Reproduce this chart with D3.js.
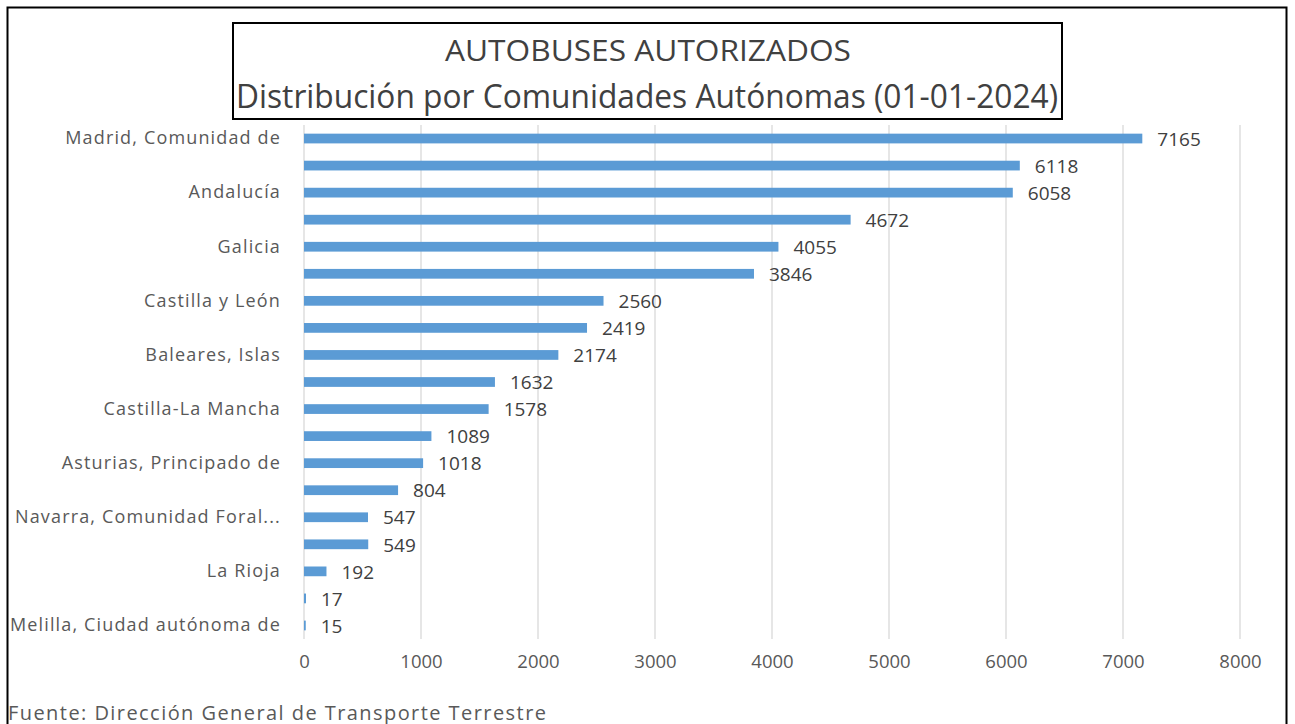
<!DOCTYPE html>
<html>
<head>
<meta charset="utf-8">
<script src="https://cdn.jsdelivr.net/npm/d3@7"></script>
<style>
  body { margin: 0; background: #fff; }
  text { font-family: "Open Sans", "Liberation Sans", sans-serif; }
</style>
</head>
<body>
<script>
/* data */
const regions = ['Madrid, Comunidad de', 'Cataluña', 'Andalucía', 'Comunitat Valenciana', 'Galicia',
  'País Vasco', 'Castilla y León', 'Canarias', 'Baleares, Islas', 'Murcia, Región de',
  'Castilla-La Mancha', 'Aragón', 'Asturias, Principado de', 'Extremadura', 'Navarra, Comunidad Foral de',
  'Cantabria', 'La Rioja', 'Ceuta, Ciudad autónoma de', 'Melilla, Ciudad autónoma de'];
const buses = [7165, 6118, 6058, 4672, 4055, 3846, 2560, 2419, 2174, 1632, 1578, 1089, 1018, 804, 547, 549, 192, 17, 15];
// Excel only shows every other category label
const shownLabels = ['Madrid, Comunidad de', '', 'Andalucía', '', 'Galicia', '', 'Castilla y León', '',
  'Baleares, Islas', '', 'Castilla-La Mancha', '', 'Asturias, Principado de', '', 'Navarra, Comunidad Foral...',
  '', 'La Rioja', '', 'Melilla, Ciudad autónoma de'];
const xTicks = [0, 1000, 2000, 3000, 4000, 5000, 6000, 7000, 8000];

const data = regions.map((r, i) => ({ region: r, value: buses[i] }));

/* canvas */
const width = 1295;
const height = 724;
const svg = d3.select('body').append('svg')
  .attr('width', width)
  .attr('height', height);

/* outer frame */
svg.append('rect')
  .attr('x', 7.5).attr('y', 7.5)
  .attr('width', 1279).attr('height', 730)
  .attr('fill', 'none').attr('stroke', '#000').attr('stroke-width', 2);

/* plot area */
const plot = { left: 304, right: 1240, top: 125, bottom: 639 };

const xScale = d3.scaleLinear()
  .domain([0, 8000])
  .range([plot.left, plot.right]);

const yScale = d3.scaleBand()
  .domain(regions)
  .range([plot.top, plot.bottom])
  .paddingInner(0.64)
  .paddingOuter(0.32);

/* gridlines */
svg.append('g')
  .selectAll('line').data(xTicks).enter().append('line')
  .attr('x1', d => xScale(d)).attr('x2', d => xScale(d))
  .attr('y1', plot.top).attr('y2', plot.bottom)
  .attr('stroke', '#d9d9d9').attr('stroke-width', 1.3);

/* x axis */
const xAxis = svg.append('g')
  .attr('transform', `translate(0,${plot.bottom})`)
  .call(d3.axisBottom(xScale).tickValues(xTicks).tickSize(0).tickPadding(16).tickFormat(d3.format('d')));
xAxis.select('.domain').remove();
xAxis.selectAll('text').attr('font-size', 18.5).attr('fill', '#595959')
  .style('font-family', '"Open Sans", sans-serif');

/* y axis */
const yAxis = svg.append('g')
  .attr('transform', `translate(${plot.left},0)`)
  .call(d3.axisLeft(yScale).tickSize(0).tickPadding(23)
    .tickFormat((d, i) => shownLabels[i]));
yAxis.select('.domain').remove();
yAxis.selectAll('text').attr('font-size', 18).attr('fill', '#595959')
  .attr('letter-spacing', 1.15)
  .style('font-family', '"Open Sans", sans-serif');

/* bars */
svg.append('g').selectAll('rect').data(data).enter().append('rect')
  .attr('x', xScale(0))
  .attr('y', d => yScale(d.region))
  .attr('width', d => xScale(d.value) - xScale(0))
  .attr('height', yScale.bandwidth())
  .attr('fill', '#5b9bd5');

/* value labels */
svg.append('g').selectAll('text').data(data).enter().append('text')
  .attr('x', d => xScale(d.value) + 15)
  .attr('y', d => yScale(d.region) + yScale.bandwidth() / 2)
  .attr('dy', '0.38em')
  .attr('font-size', 19).attr('fill', '#404040')
  .text(d => d.value);

/* title box */
svg.append('rect')
  .attr('x', 233).attr('y', 23).attr('width', 829).attr('height', 96)
  .attr('fill', '#fff').attr('stroke', '#000').attr('stroke-width', 2);
svg.append('text')
  .attr('x', 445).attr('y', 61)
  .attr('font-size', 30).attr('fill', '#404040')
  .attr('textLength', 406).attr('lengthAdjust', 'spacingAndGlyphs')
  .text('AUTOBUSES AUTORIZADOS');
svg.append('text')
  .attr('x', 236).attr('y', 108)
  .attr('font-size', 32).attr('fill', '#404040')
  .attr('textLength', 822).attr('lengthAdjust', 'spacingAndGlyphs')
  .text('Distribución por Comunidades Autónomas (01-01-2024)');

/* source */
svg.append('text')
  .attr('x', 8).attr('y', 720)
  .attr('font-size', 20).attr('fill', '#595959')
  .attr('textLength', 538).attr('lengthAdjust', 'spacing')
  .text('Fuente:  Dirección General de Transporte Terrestre');
</script>
</body>
</html>
